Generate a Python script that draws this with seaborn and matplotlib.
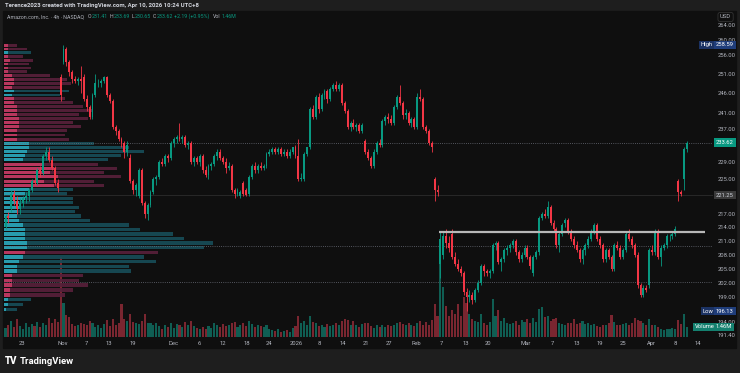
import numpy as np
import pandas as pd
import matplotlib
matplotlib.use("Agg")
import matplotlib.pyplot as plt
from matplotlib.transforms import blended_transform_factory
from matplotlib.ticker import NullLocator
import seaborn as sns

# ---- values (AMZN, 4h bars) ----
opens = [214, 216.5, 218, 221.5, 220, 218, 219.5, 220.5, 221, 222.5,
         224.5, 224, 227, 226.5, 230.5, 231.5, 229.5, 227.5, 224, 250,
         254, 257.5, 254, 251.5, 249.5, 249, 249.5, 250, 244.5, 242.5,
         240, 245.5, 248.5, 248.5, 249, 250, 245.5, 244, 237.5, 236.5,
         234.5, 233.5, 231.5, 230, 224.5, 222.5, 221, 227, 219.5, 217,
         219, 222, 225, 225.5, 229, 228.5, 230.5, 230, 233.5, 234.5,
         235, 234.5, 235, 233, 233.5, 229, 230, 229, 230.5, 227,
         226, 228, 228.5, 230.5, 231.5, 230, 229, 227.5, 228, 222.5,
         221.5, 221, 224, 222.5, 221.5, 225.5, 228, 227, 228, 227.5,
         228, 231, 231.5, 232, 231.5, 232, 231, 231.5, 230.5, 231.5,
         232.5, 230.5, 225, 225, 231, 232.5, 242, 240, 245, 242,
         245.5, 246.5, 244.5, 247, 248, 247, 248, 243.5, 241.5, 237.5,
         238.5, 237.5, 238, 236.5, 234, 231.5, 230, 228, 231.5, 233.5,
         233, 239, 240, 239.5, 238.5, 242.5, 245, 243.5, 240.5, 241,
         238.5, 239.5, 237.5, 245, 244.5, 237.5, 236.5, 233.5, 225, 222.5,
         206, 208, 212, 210.5, 212.5, 207.5, 206, 205, 204, 200,
         199, 199.5, 198.5, 200.5, 202, 205.5, 204.5, 204, 204.5, 210,
         210.5, 206.5, 207, 209, 209.5, 210, 211, 208.5, 207, 208,
         209.5, 207.5, 204, 207.5, 208.5, 216, 217, 216.5, 218.5, 215,
         213.5, 210, 212.5, 215, 215.5, 213, 211.5, 210, 209, 207,
         209, 210, 211.5, 213, 214.5, 211.5, 210, 207, 209, 207.5,
         205, 210, 209.5, 207.5, 209, 212.5, 211.5, 210, 208, 201.5,
         199.5, 201, 201.5, 209, 208.5, 213, 207.5, 209.5, 210, 212,
         212, 212.5, 224.5, 222, 225, 232]
highs = [217, 217.5, 222.5, 222.5, 221, 220.5, 221, 222, 223, 225,
         225.5, 227.5, 228, 231, 232.5, 232.5, 230.5, 228, 225, 251,
         258.59, 258, 254.5, 252, 250.5, 250, 253, 251, 245.5, 243,
         246, 251, 249.5, 249.5, 250.5, 250.5, 246, 244.5, 238, 237,
         235, 234, 234, 231, 225, 224, 227.5, 227.5, 220, 219.5,
         222.5, 225.5, 226, 229.5, 230, 231, 231, 234, 235, 235.5,
         238.5, 235.5, 235.5, 234, 234, 230.5, 230.5, 231, 231, 228,
         228.5, 229, 231, 232, 232, 230.5, 230, 229, 228.5, 223,
         223, 222.5, 224.5, 223, 226, 228.5, 229, 228.5, 229, 228.5,
         231.5, 232, 232.5, 232.5, 232.5, 232.5, 232, 232, 232, 232.5,
         233, 234.5, 226.5, 231.5, 232.5, 242.5, 243, 245.5, 246, 246,
         247, 247, 247.5, 248.5, 249, 248.5, 248.5, 244, 242, 239,
         239.5, 238.5, 238.5, 238.5, 234.5, 232, 230.5, 232, 234, 234.5,
         239.5, 240.5, 241, 240.5, 243, 245.5, 248, 244, 242, 241.5,
         240, 240, 246, 247, 245, 238, 237, 234, 225.5, 223.5,
         213, 213, 213.5, 212, 213.5, 208.5, 207, 205.5, 204.5, 201,
         200.5, 200, 201, 202.5, 206, 206, 205, 205, 210.5, 211,
         211, 207.5, 209.5, 210, 210.5, 211.5, 211.5, 209, 208.5, 210,
         210, 208, 208, 209, 216.5, 217.5, 218, 220, 219, 215.5,
         214, 213, 215, 216, 216, 213.5, 212, 211, 209.5, 209.5,
         210.5, 212, 213.5, 215, 215, 212, 210.5, 209.5, 209.5, 208,
         210.5, 211, 210, 209.5, 213, 213.5, 212, 210.5, 208.5, 202,
         201.5, 201.5, 209.5, 210, 213.5, 213.5, 210, 210.5, 212.5, 212.5,
         213, 214.3, 225, 222.5, 232.5, 234]
lows = [213.5, 215, 217.5, 219, 217, 217, 218.5, 219.5, 220, 222,
        223.5, 223.5, 225.5, 226, 229.5, 229, 227, 223.5, 222, 244,
        253.5, 253, 250.5, 248.5, 248.5, 248, 246, 244, 241.5, 239.5,
        239.5, 245, 247.5, 247.5, 248.5, 245, 243.5, 237, 235.5, 234,
        232.5, 230, 230.5, 224, 221.5, 221, 220.5, 219, 216, 215.5,
        218.5, 221.5, 223.5, 225, 228, 228, 229, 229.5, 232.5, 233.5,
        234, 233.5, 232.5, 232, 228.5, 228, 228.5, 228, 226.5, 225.5,
        225, 227, 228, 229.5, 229.5, 228.5, 226.5, 227, 222, 220.5,
        221, 220.5, 221, 221, 221, 225, 226.5, 226.5, 227, 227,
        227.5, 230.5, 231, 231, 231, 230.5, 230.5, 230, 230, 231,
        230, 224.5, 224.5, 224.5, 230.5, 232, 239.5, 239.5, 241, 241.5,
        244.5, 243.5, 244, 246.5, 246.5, 246.5, 243, 241, 237, 236.5,
        237, 236.5, 236, 236, 231, 229.5, 227.5, 227.5, 231, 232.5,
        232.5, 238, 238.5, 238, 238, 242, 243, 239.5, 239.5, 238,
        237.5, 237, 237, 244, 237, 236, 233, 231.5, 220, 221,
        203, 207, 209.5, 208.5, 207, 205.5, 204.5, 203.5, 199.5, 196.13,
        198, 197.5, 198, 200, 201.5, 203.5, 203.5, 203, 204, 209,
        206, 204.5, 206.5, 208, 208.5, 209.5, 208, 206.5, 206.5, 207.5,
        207, 205, 203.5, 207, 208, 215.5, 216, 216, 214.5, 213,
        209.5, 208.5, 212, 214, 212.5, 211, 209.5, 208.5, 206.5, 206,
        208, 209.5, 211, 212.5, 211, 209.5, 206.5, 206.5, 207, 204.5,
        204.5, 209, 207, 207, 208.5, 211, 209.5, 207.5, 201, 199,
        199, 200, 201, 208, 208, 207, 205.5, 209, 209.5, 211,
        211.5, 212, 220, 221, 222.5, 231.5]
closes = [216.5, 216, 221.5, 220, 218, 219.5, 220.5, 221, 222.5, 224.5,
          224, 227, 226.5, 230.5, 231.5, 229.5, 227.5, 224, 223, 245.5,
          257.5, 254, 251.5, 249.5, 249, 249.5, 249, 244.5, 242.5, 240,
          245.5, 248.5, 248.5, 249, 250, 245.5, 244, 237.5, 236.5, 234.5,
          233.5, 231.5, 233, 224.5, 222.5, 223.5, 227, 219.5, 217, 219,
          222, 225, 225.5, 229, 228.5, 230.5, 230, 233.5, 234.5, 235,
          234.5, 235, 233, 233.5, 229, 230, 229, 230.5, 227, 226,
          228, 228.5, 230.5, 231.5, 230, 229, 227.5, 228, 222.5, 221.5,
          222.5, 222, 221.5, 221.2, 225.5, 228, 227, 228, 227.5, 228,
          231, 231.5, 232, 231.5, 232, 231, 231.5, 230.5, 231.5, 232.5,
          230.5, 225, 225.2, 231, 232.5, 242, 240, 245, 242, 245.5,
          246.5, 244.5, 247, 248, 247, 248, 243.5, 241.5, 237.5, 238.5,
          237.5, 238, 236.5, 238, 231.5, 230, 228, 231.5, 233.5, 233,
          239, 240, 239.5, 238.5, 242.5, 245, 243.5, 240.5, 241, 238.5,
          239.5, 237.5, 245, 244.5, 237.5, 236.5, 233.5, 232.5, 222.5, 222,
          211.5, 212, 210.5, 209.5, 207.5, 206, 205, 204, 200, 199,
          199.5, 198.5, 200.5, 202, 205.5, 204.5, 204, 204.5, 210, 210.5,
          206.5, 207, 209, 209.5, 210, 211, 208.5, 207, 208, 209.5,
          207.5, 205.5, 207.5, 208.5, 216, 217, 216.5, 218.5, 215, 213.5,
          210, 212.5, 214.5, 215.5, 213, 211.5, 210, 209, 207, 209,
          210, 211.5, 213, 214.6, 211.5, 210, 207, 209, 207.5, 205,
          210, 209.5, 207.5, 209, 212.5, 211.5, 210, 208, 201.5, 199.5,
          201, 200.5, 209, 208.5, 213, 207.5, 209.5, 210, 212, 212,
          212.5, 213.5, 222, 221.5, 232, 233.62]
volumes = [1.3, 1.8, 2.4, 1.5, 2.7, 1.6, 1.2, 2.0, 1.4, 1.9,
           1.6, 2.2, 1.5, 2.1, 1.7, 2.8, 2.0, 2.6, 2.2, 11.7,
           5.0, 3.2, 2.9, 1.9, 1.6, 1.8, 2.0, 1.9, 1.7, 2.4,
           2.0, 1.4, 1.7, 1.3, 1.9, 2.5, 1.6, 2.6, 1.8, 2.1,
           4.8, 2.7, 2.3, 3.4, 2.2, 2.0, 1.9, 2.4, 3.4, 2.1,
           2.0, 1.8, 2.1, 1.6, 1.2, 1.8, 1.5, 2.0, 1.3, 1.9,
           1.7, 1.5, 2.2, 1.7, 2.4, 1.6, 1.3, 1.2, 1.5, 1.2,
           1.6, 1.3, 2.1, 1.7, 1.5, 1.9, 1.6, 1.8, 2.0, 2.2,
           1.5, 1.7, 2.0, 1.6, 2.4, 1.9, 1.5, 1.8, 1.6, 1.4,
           1.8, 1.2, 1.0, 0.9, 1.1, 0.8, 0.9, 1.0, 0.8, 1.3,
           1.6, 3.1, 2.0, 2.4, 1.7, 3.1, 2.2, 2.0, 1.6, 1.8,
           1.5, 1.9, 1.6, 1.7, 2.0, 1.8, 2.3, 2.6, 2.5, 1.8,
           2.4, 1.7, 1.5, 1.9, 2.0, 2.0, 1.6, 1.3, 1.8, 1.5,
           1.7, 1.4, 1.8, 1.6, 1.8, 2.0, 2.2, 1.9, 1.8, 2.0,
           1.7, 1.6, 2.0, 2.4, 1.8, 2.2, 1.7, 2.5, 4.8, 3.0,
           11.7, 7.3, 4.5, 3.0, 3.9, 3.3, 4.8, 3.0, 5.8, 4.9,
           3.4, 2.6, 2.4, 2.2, 3.4, 2.0, 1.8, 2.2, 5.5, 3.0,
           3.9, 2.4, 2.8, 2.0, 1.9, 2.1, 2.3, 1.8, 2.5, 2.2,
           2.6, 2.0, 2.8, 2.2, 4.1, 4.4, 2.9, 3.0, 2.3, 2.6,
           2.8, 2.1, 1.9, 1.7, 2.0, 2.1, 2.6, 1.9, 2.1, 2.3,
           1.9, 2.0, 1.7, 1.9, 1.6, 1.5, 1.8, 1.7, 2.0, 3.2,
           2.2, 1.8, 1.7, 1.9, 2.0, 1.8, 2.1, 2.8, 2.5, 2.4,
           2.0, 1.7, 2.6, 1.8, 1.7, 1.4, 1.2, 1.0, 1.2, 1.1,
           1.3, 1.2, 2.5, 1.9, 3.4, 1.46]

# time axis: labels and the bar they sit under
tick_labels = ["23", "Nov", "7", "13", "19", "Dec", "6", "12", "18", "24", "2026",
               "8", "14", "21", "27", "Feb", "7", "13", "20", "Mar", "7", "13",
               "19", "25", "Apr", "8", "14"]
tick_bars = [5.7, 19.8, 27.8, 35.7, 44.0, 57.8, 66.7, 75.0, 83.3, 90.9, 100.2,
             108.1, 116.4, 124.3, 132.2, 141.6, 150.5, 158.8, 166.4, 179.5, 188.8,
             197.1, 205.0, 213.0, 222.9, 230.9, 238.8]
price_ticks = [264, 260, 256, 251, 246, 241, 237, 229, 225, 217, 214, 211,
               208, 205, 202, 199, 194, 191.4]

# visible-range volume profile, $1 rows from 259 down to 196 (POC = 100)
vp_top = 259
vp_total = [6, 11, 13, 9, 14, 12, 13, 11, 22, 30, 32, 28, 31, 27, 29, 33, 38, 42,
            36, 40, 33, 37, 30, 29, 31, 43, 60, 67, 56, 50, 45, 54, 48, 56, 43,
            48, 33, 30, 33, 33, 36, 34, 37, 41, 60, 65, 81, 86, 100, 96, 74, 67,
            73, 60, 61, 38, 36, 40, 33, 29, 13, 9, 6]
vp_bright = [2, 2, 2, 2, 3, 2, 2, 2, 4, 5, 5, 4, 5, 4, 5, 5, 6, 6, 6, 7, 7, 7,
             6, 6, 6, 12, 12, 11, 10, 9, 19, 24, 22, 26, 19, 24, 12, 10, 10, 7,
             7, 6, 6, 7, 9, 10, 10, 10, 11, 11, 10, 9, 7, 6, 6, 4, 4, 4, 3, 3,
             2, 2, 1]
vp_side = ("ddu" "ddddddddd" "uu" "ddddddddddd" "uuuuu" "dddddd"
           "uuuuuuuuuuuuuu" "d" "uuuu" "ddddd" "uuu")

last_price = 233.62
mark_level = 221.25
high_price = 258.59
low_price = 196.13
last_volume = 1.46
resistance = 213.0
poc_level = 209.8
val_level = 202.1

df = pd.DataFrame({"o": opens, "h": highs, "l": lows, "c": closes, "v": volumes})
df["bar"] = np.arange(len(df))
df["up"] = df["c"] >= df["o"]

vp = pd.DataFrame({"total": vp_total, "bright": vp_bright, "side": list(vp_side)})
vp["price"] = vp_top - 0.5 - np.arange(len(vp))

# ---- style ----
BG = "#0f0f0f"
FRAME = "#1e1e1e"
TXT = "#b2b5be"
UP = "#089981"
DN = "#f23645"
sns.set_theme(style="dark", rc={"axes.facecolor": BG, "figure.facecolor": FRAME,
                                "axes.edgecolor": BG, "text.color": TXT,
                                "xtick.color": TXT, "ytick.color": TXT})
plt.rcParams["font.family"] = ["Roboto", "DejaVu Sans"]

W, H = 740, 373
fig = plt.figure(figsize=(W / 100, H / 100), dpi=100)
fx = lambda x: x / W
fy = lambda y: 1 - y / H

fig.add_artist(plt.Rectangle((fx(3), fy(348)), fx(736) - fx(3), fy(11) - fy(348),
                             transform=fig.transFigure, color=BG, zorder=-5))

ax = fig.add_axes([fx(4), fy(337), fx(713) - fx(4), fy(12) - fy(337)])
ax2 = ax.twinx()
ax.set_zorder(2)
ax2.set_zorder(1)
ax.patch.set_visible(False)
ax2.patch.set_visible(False)

# volume (overlay at the bottom)
vol_cols = np.where(df["up"], "#0f5e53", "#7a2630")
ax2.bar(df["bar"], df["v"], width=0.72, color=vol_cols, linewidth=0)
ax2.set_ylim(0, 47.45)
ax2.set_yticks([])

# volume profile
ax.set_yscale("log")
x_left = -0.52
scale = 0.72
dim = {"u": "#174c57", "d": "#57203a"}
bright = {"u": "#2aa3b6", "d": "#c23a62"}
ax.barh(vp["price"], vp["total"] * scale, left=x_left, height=0.72,
        color=[dim[s] for s in vp["side"]], linewidth=0, zorder=1, alpha=0.92)
ax.barh(vp["price"], vp["bright"] * scale, left=x_left, height=0.72,
        color=[bright[s] for s in vp["side"]], linewidth=0, zorder=1.1, alpha=0.92)

# reference lines
dots = (0, (1, 1.6))
ax.axhline(last_price, color="#6a6d78", lw=0.6, ls=dots, zorder=1.5)
ax.axhline(poc_level, color="#6a6d78", lw=0.6, ls=dots, zorder=1.5)
ax.axhline(val_level, color="#6a6d78", lw=0.6, ls=dots, zorder=1.5)
ax.axhline(mark_level, color="#2c2c2c", lw=0.6, zorder=1.4)
ax.hlines(resistance, 149.6, 241.3, color="#b8b8b8", lw=1.6, zorder=4)

# candles
cols = np.where(df["up"], UP, DN)
ax.vlines(df["bar"], df["l"], df["h"], colors=cols, lw=0.6, zorder=3)
body = np.maximum((df["c"] - df["o"]).abs(), 0.12)
ax.bar(df["bar"], body, bottom=np.minimum(df["o"], df["c"]), width=0.66,
       color=cols, linewidth=0, zorder=3.2)

ax.set_xlim(x_left, 244.0)
ax.set_ylim(190.94, 267.59)
ax.yaxis.tick_right()
ax.set_yticks(price_ticks)
ax.set_yticklabels([f"{p:.2f}" for p in price_ticks])
ax.yaxis.set_minor_locator(NullLocator())
ax.set_xticks(tick_bars)
ax.set_xticklabels(tick_labels)
ax.tick_params(axis="both", which="both", length=0, labelsize=4.2, colors=TXT)
ax.tick_params(axis="y", pad=3.2)
ax.tick_params(axis="x", pad=2.6)
ax.grid(False)
ax2.grid(False)
for a in (ax, ax2):
    for s in a.spines.values():
        s.set_visible(False)

# price-scale tags
tr = blended_transform_factory(fig.transFigure, ax.transData)
tr_v = blended_transform_factory(fig.transFigure, ax2.transData)


def tag(x, y, text, fc, tc="#ffffff", trans=tr):
    ax.text(fx(x), y, text, transform=trans, fontsize=4.2, color=tc, ha="left",
            va="center", clip_on=False, zorder=10,
            bbox=dict(boxstyle="square,pad=0.3", fc=fc, ec="none"))


tag(716, last_price, f"{last_price:.2f}", UP)
tag(716, mark_level, f"{mark_level:.2f}", "#3a3a3a", "#d1d4dc")
tag(700.5, high_price, "High", "#1b3263")
tag(716, high_price, f"{high_price:.2f}", "#1f3d7a")
tag(702.5, low_price, "Low", "#1b3263")
tag(716, low_price, f"{low_price:.2f}", "#1f3d7a")
tag(695, last_volume, "Volume", "#14806f", trans=tr_v)
tag(716, last_volume, f"{last_volume:.2f}M", "#14806f", trans=tr_v)
fig.text(fx(720), fy(17), "USD", fontsize=4.2, color=TXT, va="center",
         bbox=dict(boxstyle="round,pad=0.35", fc=BG, ec="#3a3a3a", lw=0.5))

# header
fig.text(fx(5), fy(5.5), "Terence2023 created with TradingView.com, Apr 10, 2026 10:24 UTC+8",
         fontsize=4.3, color="#d1d4dc", va="center", fontweight="bold")

# legend line, laid out run by run so the pieces never collide
renderer = fig.canvas.get_renderer()
runs = [("Amazon.com, Inc. · 4h · NASDAQ", TXT, 3.5),
        ("O", TXT, 0.3), ("231.41", UP, 1.8),
        ("H", TXT, 0.3), ("233.69", UP, 1.8),
        ("L", TXT, 0.3), ("230.65", UP, 1.8),
        ("C", TXT, 0.3), ("233.62", UP, 1.8),
        ("+2.19 (+0.95%)", UP, 3),
        ("Vol", TXT, 1), ("1.46M", UP, 0)]
x = 7
for text, color, gap in runs:
    t = fig.text(fx(x), fy(16.5), text, fontsize=3.8, color=color, va="center")
    x = t.get_window_extent(renderer=renderer).x1 + gap

# footer logo
fig.text(fx(5), fy(361), "TV", fontsize=7, color="#ffffff", va="center", fontweight="heavy")
fig.text(fx(20), fy(361), "TradingView", fontsize=6.8, color="#ffffff", va="center",
         fontweight="bold")

fig.savefig("out.png", dpi=100, facecolor=FRAME)
